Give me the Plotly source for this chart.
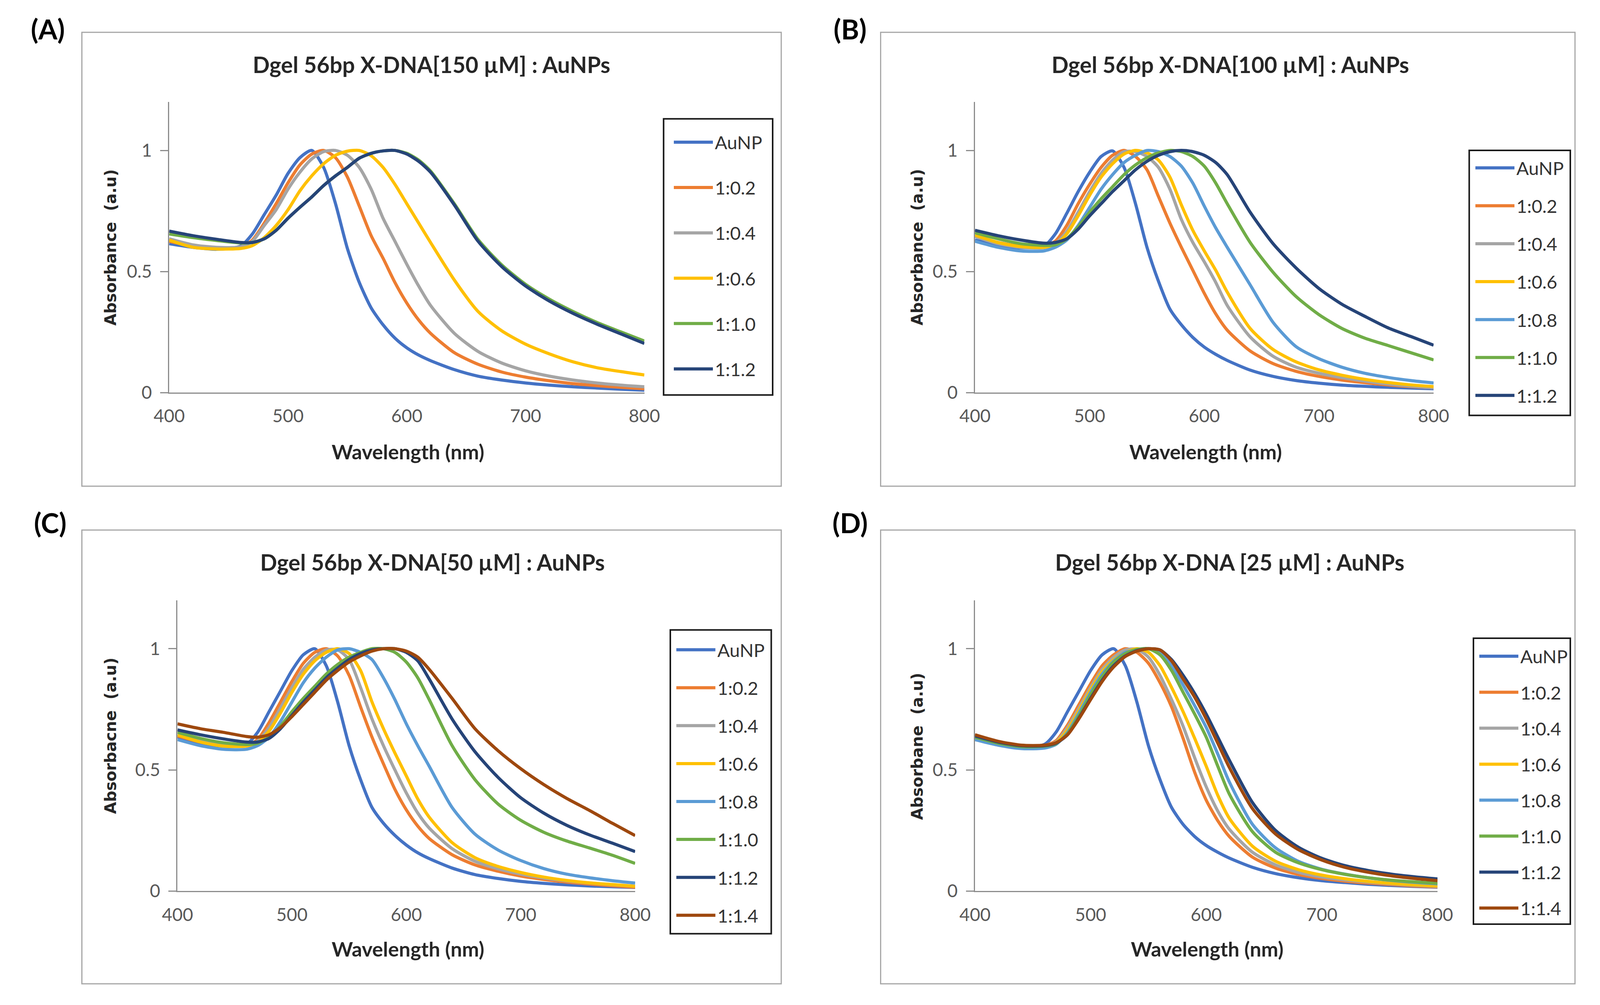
import plotly.graph_objects as go

# Wavelength grid (nm)
W = [400, 420, 440, 460, 470, 480, 490, 500, 510, 520, 530, 540, 550, 560, 570,
     580, 590, 600, 610, 620, 640, 660, 680, 700, 720, 740, 760, 780, 800]

# ---------------- Panel A: 150 uM ----------------
A_AuNP = [.615,.600,.592,.605,.655,.735,.815,.905,.970,1.000,.930,.780,.595,.455,.350,.280,.225,.185,.155,.132,.095,.068,.052,.040,.031,.024,.019,.014,.010]
A_02 = [.625,.605,.595,.600,.630,.700,.780,.866,.940,.985,1.000,.970,.890,.770,.648,.555,.455,.370,.300,.245,.165,.117,.085,.064,.049,.037,.029,.022,.016]
A_04 = [.635,.610,.600,.602,.625,.690,.755,.840,.910,.965,.995,1.000,.980,.930,.840,.720,.625,.530,.440,.360,.245,.170,.122,.090,.068,.052,.040,.031,.024]
A_06 = [.630,.600,.593,.595,.607,.640,.690,.755,.833,.895,.945,.980,.997,1.000,.978,.930,.860,.780,.700,.620,.465,.335,.255,.200,.160,.127,.103,.087,.073]
A_10 = [.655,.640,.628,.618,.620,.635,.670,.720,.765,.808,.855,.895,.930,.968,.988,.998,1.000,.988,.960,.915,.780,.632,.527,.447,.386,.335,.290,.251,.213]
A_12 = [.667,.648,.633,.620,.620,.635,.670,.720,.765,.808,.855,.895,.930,.968,.988,.998,1.000,.985,.955,.910,.775,.625,.520,.440,.378,.327,.283,.243,.203]

# ---------------- Panel B: 100 uM ----------------
B_AuNP = [.630,.610,.598,.605,.655,.740,.830,.910,.975,.998,.930,.780,.600,.460,.345,.280,.228,.188,.158,.133,.093,.067,.050,.039,.031,.026,.022,.019,.016]
B_02 = [.645,.620,.605,.605,.625,.690,.780,.860,.930,.980,1.000,.975,.920,.810,.700,.600,.505,.410,.325,.258,.172,.120,.088,.067,.052,.041,.032,.025,.020]
B_04 = [.645,.615,.600,.598,.615,.665,.745,.830,.905,.960,.995,.995,.975,.930,.840,.715,.620,.540,.455,.360,.230,.150,.105,.080,.062,.048,.036,.027,.020]
B_06 = [.650,.620,.603,.600,.610,.655,.730,.815,.890,.945,.985,1.000,.990,.960,.890,.775,.670,.585,.505,.415,.265,.178,.127,.094,.072,.055,.042,.032,.025]
B_08 = [.625,.600,.585,.585,.600,.630,.690,.765,.840,.900,.950,.980,1.000,.995,.975,.935,.865,.770,.680,.600,.445,.290,.190,.140,.105,.080,.063,.050,.040]
B_10 = [.660,.635,.615,.608,.610,.635,.685,.745,.800,.850,.900,.940,.970,.990,1.000,.995,.975,.935,.865,.780,.620,.497,.397,.322,.265,.225,.195,.165,.135]
B_12 = [.670,.648,.630,.617,.620,.635,.675,.730,.780,.830,.875,.920,.955,.980,.995,1.000,.995,.980,.950,.900,.745,.615,.515,.430,.365,.315,.268,.232,.196]

# ---------------- Panel C: 50 uM ----------------
C_AuNP = [.635,.610,.598,.605,.655,.740,.825,.910,.975,1.000,.930,.780,.600,.460,.345,.280,.230,.190,.158,.134,.095,.068,.052,.040,.032,.026,.021,.018,.015]
C_02 = [.640,.615,.600,.600,.625,.695,.780,.865,.940,.985,1.000,.970,.890,.760,.635,.525,.420,.335,.268,.217,.150,.108,.082,.062,.048,.037,.029,.022,.016]
C_04 = [.645,.620,.603,.600,.618,.675,.755,.840,.915,.965,.995,.995,.955,.840,.710,.600,.500,.405,.322,.260,.175,.123,.092,.070,.054,.042,.033,.026,.020]
C_06 = [.645,.615,.598,.598,.612,.660,.735,.820,.895,.950,.985,1.000,.980,.910,.780,.670,.570,.475,.380,.305,.200,.138,.102,.077,.058,.044,.034,.027,.020]
C_08 = [.625,.600,.585,.585,.600,.635,.700,.780,.860,.920,.965,.995,1.000,.985,.955,.880,.790,.690,.600,.515,.345,.235,.170,.126,.093,.070,.055,.043,.033]
C_10 = [.655,.630,.612,.605,.610,.635,.680,.740,.795,.845,.895,.935,.965,.985,1.000,1.000,.985,.945,.880,.790,.600,.460,.360,.292,.243,.207,.178,.148,.114]
C_12 = [.665,.645,.628,.615,.615,.630,.670,.725,.780,.830,.880,.920,.955,.980,.995,1.000,1.000,.985,.950,.875,.710,.575,.470,.385,.322,.272,.232,.198,.163]
C_14 = [.690,.670,.655,.638,.635,.645,.675,.720,.770,.820,.870,.910,.945,.970,.990,1.000,1.000,.990,.965,.915,.795,.670,.580,.505,.440,.383,.333,.280,.229]

# ---------------- Panel D: 25 uM ----------------
D_AuNP = [.630,.608,.596,.605,.655,.740,.825,.910,.975,1.000,.930,.780,.600,.460,.345,.275,.225,.188,.160,.136,.098,.072,.055,.043,.035,.028,.023,.019,.016]
D_02 = [.635,.610,.598,.600,.620,.685,.770,.855,.930,.975,1.000,.985,.940,.860,.760,.630,.490,.375,.290,.225,.140,.095,.068,.052,.041,.033,.027,.021,.017]
D_04 = [.632,.608,.596,.598,.615,.675,.755,.840,.915,.965,.995,.998,.965,.890,.790,.680,.550,.430,.330,.255,.160,.108,.077,.058,.046,.037,.030,.024,.019]
D_06 = [.635,.608,.595,.597,.612,.665,.745,.830,.905,.955,.985,1.000,.985,.930,.840,.740,.630,.515,.395,.300,.185,.123,.088,.066,.051,.040,.032,.026,.021]
D_08 = [.625,.602,.588,.590,.605,.655,.735,.820,.895,.950,.985,.995,1.000,.985,.930,.850,.765,.675,.565,.450,.275,.178,.122,.090,.070,.055,.044,.036,.030]
D_10 = [.635,.610,.596,.598,.608,.650,.725,.810,.885,.945,.980,.997,1.000,.975,.910,.820,.730,.635,.515,.400,.245,.160,.116,.088,.069,.055,.045,.038,.032]
D_12 = [.640,.615,.600,.600,.610,.645,.715,.795,.870,.930,.970,.992,1.000,.995,.955,.890,.815,.730,.635,.540,.365,.250,.180,.135,.105,.085,.070,.059,.050]
D_14 = [.645,.618,.602,.602,.612,.645,.712,.790,.865,.925,.968,.990,1.000,.995,.950,.875,.800,.710,.610,.510,.340,.235,.170,.128,.098,.078,.063,.052,.043]

X_TICKS = [400, 500, 600, 700, 800]
Y_TICKS = [0, 0.5, 1]
Y_TICKTEXT = ["0", "0.5", "1"]

C_BLUE, C_ORANGE, C_GRAY, C_YELLOW = "#4472C4", "#ED7D31", "#A5A5A5", "#FFC000"
C_LBLUE, C_GREEN, C_NAVY, C_BROWN = "#5B9BD5", "#70AD47", "#264478", "#9E480E"

panels = [
    dict(key="A", xa="x", ya="y", leg="legend",
         title="Dgel 56bp X-DNA[150 µM] : AuNPs", ytitle="Absorbance\u00a0 (a.u)",
         series=[("AuNP", A_AuNP, C_BLUE), ("1:0.2", A_02, C_ORANGE), ("1:0.4", A_04, C_GRAY),
                 ("1:0.6", A_06, C_YELLOW), ("1:1.0", A_10, C_GREEN), ("1:1.2", A_12, C_NAVY)]),
    dict(key="B", xa="x2", ya="y2", leg="legend2",
         title="Dgel 56bp X-DNA[100 µM] : AuNPs", ytitle="Absorbance\u00a0 (a.u)",
         series=[("AuNP", B_AuNP, C_BLUE), ("1:0.2", B_02, C_ORANGE), ("1:0.4", B_04, C_GRAY),
                 ("1:0.6", B_06, C_YELLOW), ("1:0.8", B_08, C_LBLUE), ("1:1.0", B_10, C_GREEN),
                 ("1:1.2", B_12, C_NAVY)]),
    dict(key="C", xa="x3", ya="y3", leg="legend3",
         title="Dgel 56bp X-DNA[50 µM] : AuNPs", ytitle="Absorbacne\u00a0 (a.u)",
         series=[("AuNP", C_AuNP, C_BLUE), ("1:0.2", C_02, C_ORANGE), ("1:0.4", C_04, C_GRAY),
                 ("1:0.6", C_06, C_YELLOW), ("1:0.8", C_08, C_LBLUE), ("1:1.0", C_10, C_GREEN),
                 ("1:1.2", C_12, C_NAVY), ("1:1.4", C_14, C_BROWN)]),
    dict(key="D", xa="x4", ya="y4", leg="legend4",
         title="Dgel 56bp X-DNA [25 µM] : AuNPs", ytitle="Absorbane\u00a0 (a.u)",
         series=[("AuNP", D_AuNP, C_BLUE), ("1:0.2", D_02, C_ORANGE), ("1:0.4", D_04, C_GRAY),
                 ("1:0.6", D_06, C_YELLOW), ("1:0.8", D_08, C_LBLUE), ("1:1.0", D_10, C_GREEN),
                 ("1:1.2", D_12, C_NAVY), ("1:1.4", D_14, C_BROWN)]),
]

fig = go.Figure()
for p in panels:
    for i, (name, vals, col) in enumerate(p["series"]):
        fig.add_trace(go.Scatter(
            x=W, y=vals, mode="lines", name=name,
            line=dict(color=col, width=8, shape="spline", smoothing=0.7),
            xaxis=p["xa"], yaxis=p["ya"], legend=p["leg"],
            legendgroup=p["key"] + str(i), showlegend=True))

AX_COL = "#8C8C8C"
TICK_FONT = dict(family="Lato", size=46, color="#595959")


def xax(dom, anchor):
    return dict(domain=dom, anchor=anchor, range=[400, 800], tickvals=X_TICKS,
                showline=True, linecolor=AX_COL, linewidth=3, ticks="",
                showgrid=False, zeroline=False, tickfont=TICK_FONT,
                ticklabelstandoff=18, fixedrange=True)


def yax(dom, anchor):
    return dict(domain=dom, anchor=anchor, range=[0, 1.2], tickvals=Y_TICKS,
                ticktext=Y_TICKTEXT, showline=True, linecolor=AX_COL, linewidth=3,
                ticks="outside", ticklen=20, tickwidth=3, tickcolor=AX_COL,
                showgrid=False, zeroline=False, tickfont=TICK_FONT,
                ticklabelstandoff=12, fixedrange=True)


# panel geometry (paper fractions)
geo = {
    "A": dict(x=[0.0963, 0.4004], y=[0.606, 0.900], box=[0.0404, 0.5114, 0.488, 0.9705],
              leg=[0.4127, 0.6036, 0.4825, 0.883], legpos=(0.418, 0.874), gap=52,
              lab=(0.0187, 0.974), tit=(0.2642, 0.938), xt=(0.249, 0.5465), yt=(0.0589, 0.753)),
    "B": dict(x=[0.612, 0.9055], y=[0.606, 0.900], box=[0.5516, 0.5114, 0.996, 0.9705],
              leg=[0.9283, 0.583, 0.993, 0.851], legpos=(0.931, 0.848), gap=33,
              lab=(0.532, 0.974), tit=(0.7754, 0.938), xt=(0.7597, 0.5465), yt=(0.575, 0.753)),
    "C": dict(x=[0.1016, 0.3945], y=[0.1018, 0.396], box=[0.0404, 0.008, 0.488, 0.467],
              leg=[0.417, 0.0587, 0.4816, 0.366], legpos=(0.4196, 0.3605), gap=33,
              lab=(0.0200, 0.4746), tit=(0.2648, 0.4345), xt=(0.249, 0.0435), yt=(0.0589, 0.259)),
    "D": dict(x=[0.612, 0.908], y=[0.1018, 0.396], box=[0.5516, 0.008, 0.996, 0.467],
              leg=[0.931, 0.0684, 0.993, 0.3576], legpos=(0.9335, 0.354), gap=28,
              lab=(0.532, 0.4746), tit=(0.775, 0.4345), xt=(0.7606, 0.0435), yt=(0.575, 0.248)),
}

layout = dict(autosize=True, margin=dict(l=0, r=0, t=0, b=0),
              paper_bgcolor="white", plot_bgcolor="white", showlegend=True)
shapes, annotations = [], []
axis_names = [("xaxis", "yaxis", "y", "x"), ("xaxis2", "yaxis2", "y2", "x2"),
              ("xaxis3", "yaxis3", "y3", "x3"), ("xaxis4", "yaxis4", "y4", "x4")]
leg_names = ["legend", "legend2", "legend3", "legend4"]

for p, (xn, yn, yanc, xanc), ln in zip(panels, axis_names, leg_names):
    g = geo[p["key"]]
    layout[xn] = xax(g["x"], yanc)
    layout[yn] = yax(g["y"], xanc)
    b = g["box"]
    shapes.append(dict(type="rect", xref="paper", yref="paper", x0=b[0], y0=b[1], x1=b[2], y1=b[3],
                       line=dict(color="#A6A6A6", width=3), fillcolor="rgba(0,0,0,0)", layer="below"))
    lg = g["leg"]
    shapes.append(dict(type="rect", xref="paper", yref="paper", x0=lg[0], y0=lg[1], x1=lg[2], y1=lg[3],
                       line=dict(color="#1a1a1a", width=4), fillcolor="rgba(0,0,0,0)", layer="above"))
    layout[ln] = dict(x=g["legpos"][0], y=g["legpos"][1], xanchor="left", yanchor="top",
                      bgcolor="rgba(0,0,0,0)", borderwidth=0,
                      font=dict(family="Lato", size=47, color="#333333"),
                      tracegroupgap=g["gap"], itemwidth=100, traceorder="grouped")
    annotations.append(dict(text="(" + p["key"] + ")", x=g["lab"][0], y=g["lab"][1], xref="paper", yref="paper",
                            showarrow=False, xanchor="center", yanchor="middle",
                            font=dict(family="Lato", size=70, color="#000000", weight="bold")))
    annotations.append(dict(text=p["title"], x=g["tit"][0], y=g["tit"][1], xref="paper", yref="paper",
                            showarrow=False, xanchor="center", yanchor="middle",
                            font=dict(family="Lato", size=57, color="#262626", weight="bold")))
    annotations.append(dict(text="Wavelength (nm)", x=g["xt"][0], y=g["xt"][1], xref="paper", yref="paper",
                            showarrow=False, xanchor="center", yanchor="middle",
                            font=dict(family="Lato", size=52, color="#262626", weight="bold")))
    annotations.append(dict(text=p["ytitle"], x=g["yt"][0], y=g["yt"][1], xref="paper", yref="paper",
                            showarrow=False, xanchor="center", yanchor="middle", textangle=-90,
                            font=dict(family="DejaVu Sans", size=40, color="#262626", weight="bold")))

layout["shapes"] = shapes
layout["annotations"] = annotations
fig.update_layout(**layout)
fig.write_html("out.html")
